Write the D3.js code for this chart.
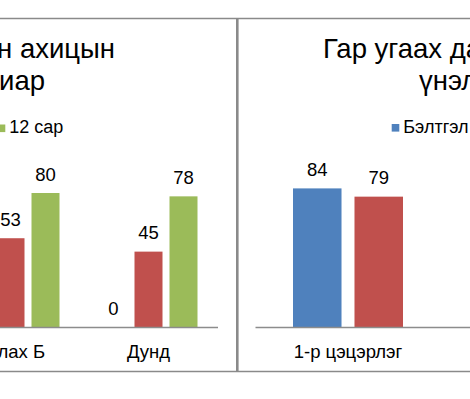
<!DOCTYPE html>
<html>
<head>
<meta charset="utf-8">
<script src="https://cdn.jsdelivr.net/npm/d3@7"></script>
<style>
  body { margin: 0; background: #ffffff; }
  #chart svg { display: block; font-family: "Liberation Sans", Arial, sans-serif; }
  .frame { stroke: #8a8a8a; fill: none; }
  .title { font-size: 27.5px; fill: #000; }
  .legend text { font-size: 18px; fill: #000; }
  .value { font-size: 18.5px; fill: #000; text-anchor: middle; }
  .axis .domain { stroke: #8c8c8c; stroke-width: 1.5px; }
  .axis .tick text { font-size: 18.5px; fill: #000; font-family: "Liberation Sans", Arial, sans-serif; }
</style>
</head>
<body>
<div id="chart"></div>
<script>
// ── data ─────────────────────────────────────────────
const colors = ["#4F81BD", "#C0504D", "#9BBB59"];

// left chart (partly cut off by the crop)
const leftCategories = ["Ахлах Б", "Дунд"];
const leftSeries = ["9 сар", "10 сар", "12 сар"];
const leftSep = [30, 0];
const leftOct = [53, 45];
const leftDec = [80, 78];

// right chart (partly cut off by the crop)
const rightCategories = ["1-р цэцэрлэг", "2-р цэцэрлэг"];
const rightSeries = ["Бэлтгэл үе", "Дараах үе"];
const rightBefore = [84, 70];
const rightAfter = [79, 75];

// ── layout ───────────────────────────────────────────
const W = 470, H = 399;
const baseY = 327;

const svg = d3.select("#chart").append("svg")
  .attr("width", W)
  .attr("height", H);

// panel frames
svg.append("line").attr("class", "frame")
  .attr("x1", 0).attr("x2", W).attr("y1", 18.5).attr("y2", 18.5)
  .attr("stroke-width", 1.5);
svg.append("line").attr("class", "frame")
  .attr("x1", 0).attr("x2", W).attr("y1", 371.5).attr("y2", 371.5)
  .attr("stroke-width", 1.5);
svg.append("line").attr("class", "frame")
  .attr("x1", 237.3).attr("x2", 237.3).attr("y1", 18).attr("y2", 372)
  .attr("stroke-width", 2.6);

function drawPanel(p) {
  const g = svg.append("g");

  const x0 = d3.scaleBand()
    .domain(p.categories)
    .range(p.xRange)
    .paddingInner(p.outerPad)
    .paddingOuter(p.outerPad / 2);

  const x1 = d3.scaleBand()
    .domain(p.series)
    .range([0, x0.bandwidth()])
    .paddingInner(p.innerPad);

  const y = d3.scaleLinear()
    .domain([0, 90])
    .range([baseY, baseY - 90 * p.pxPerUnit]);

  const rows = [];
  p.categories.forEach((c, i) => {
    p.series.forEach((s, j) => {
      rows.push({ cat: c, ser: s, idx: j, value: p.values[j][i] });
    });
  });

  g.selectAll("rect.bar")
    .data(rows)
    .enter().append("rect")
      .attr("class", "bar")
      .attr("x", d => x0(d.cat) + x1(d.ser))
      .attr("y", d => y(d.value))
      .attr("width", x1.bandwidth())
      .attr("height", d => baseY - y(d.value))
      .attr("fill", d => colors[d.idx]);

  g.selectAll("text.value")
    .data(rows)
    .enter().append("text")
      .attr("class", "value")
      .attr("x", d => x0(d.cat) + x1(d.ser) + x1.bandwidth() / 2)
      .attr("y", d => y(d.value) - 12.5)
      .text(d => d.value);

  g.append("g")
    .attr("class", "axis")
    .attr("transform", `translate(0,${baseY})`)
    .call(d3.axisBottom(x0).tickSize(0).tickSizeOuter(0).tickPadding(18))
    .call(a => a.selectAll(".tick text").attr("dy", "0.71em"));

  // title
  p.title.forEach((t, i) => {
    g.append("text")
      .attr("class", "title")
      .attr("x", t.x)
      .attr("y", 58 + i * 32)
      .attr("text-anchor", t.anchor)
      .text(t.text);
  });

  // legend
  const lg = g.append("g").attr("class", "legend");
  let cx = 0;
  const anchors = [];
  p.series.forEach((s, j) => {
    const item = lg.append("g").attr("transform", `translate(${cx},0)`);
    item.append("rect")
      .attr("x", 0).attr("y", -8.5)
      .attr("width", 7.6).attr("height", 7.6)
      .attr("fill", colors[j]);
    const tx = item.append("text")
      .attr("x", 11.6).attr("y", 0)
      .text(s);
    anchors.push(cx);
    cx += 11.6 + tx.node().getComputedTextLength() + 14;
  });
  const shift = p.legendX - anchors[p.legendRef];
  lg.attr("transform", `translate(${shift},${p.legendY})`);
}

drawPanel({
  categories: leftCategories,
  series: leftSeries,
  values: [leftSep, leftOct, leftDec],
  xRange: [-58.5, 217.5],
  outerPad: 40 / 138,
  innerPad: 0.2,
  pxPerUnit: 1.675,
  title: [
    { text: "Хүүхдийн хөгжлийн ахицын", x: 115, anchor: "end" },
    { text: "үзүүлэлт ангиар", x: 45, anchor: "end" }
  ],
  legendX: -2.3, legendY: 133, legendRef: 2
});

drawPanel({
  categories: rightCategories,
  series: rightSeries,
  values: [rightBefore, rightAfter],
  xRange: [255, 255 + 186 * 2],
  outerPad: 76 / 186,
  innerPad: 0.211,
  pxPerUnit: 1.65,
  title: [
    { text: "Гар угаах дадлын", x: 323, anchor: "start" },
    { text: "үнэлгээ", x: 419, anchor: "start" }
  ],
  legendX: 391.7, legendY: 132.5, legendRef: 0
});
</script>
</body>
</html>
